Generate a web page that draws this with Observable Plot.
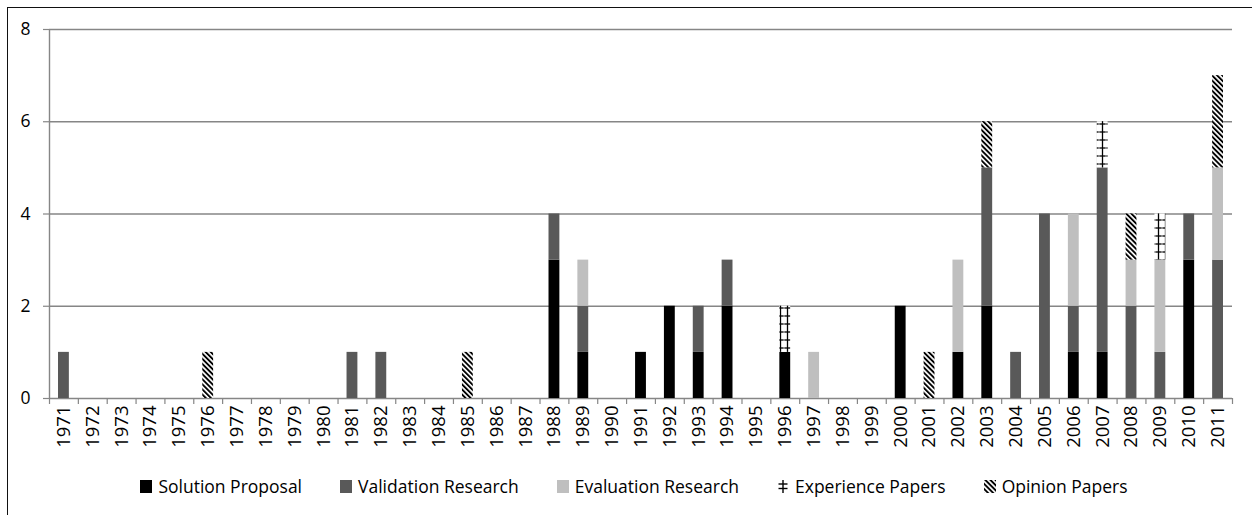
<!DOCTYPE html>
<html>
<head>
<meta charset="utf-8">
<script src="https://cdn.jsdelivr.net/npm/d3@7"></script>
<script src="https://cdn.jsdelivr.net/npm/@observablehq/plot@0.6"></script>
<style>
  html, body { margin: 0; padding: 0; background: #fff; width: 1252px; height: 515px; overflow: hidden; }
  #wrap { position: relative; width: 1252px; height: 515px; }
  #chart { position: absolute; left: 0; top: 0; }
  #border { position: absolute; left: 7px; top: 7px; width: 1300px; height: 600px; border-left: 1.5px solid #111; border-top: 1.5px solid #111; pointer-events: none; }
  #legend { position: absolute; left: 0; top: 474px; width: 1268px; display: flex; justify-content: center; font-family: "Open Sans", sans-serif; font-size: 17.5px; color: #000; }
  .item { display: flex; align-items: center; margin: 0 19px; }
  .item svg { margin-right: 6px; }
</style>
</head>
<body>
<div id="wrap">
  <div id="chart"></div>
  <div id="legend"></div>
  <div id="border"></div>
</div>
<script>
const years = ["1971","1972","1973","1974","1975","1976","1977","1978","1979","1980",
  "1981","1982","1983","1984","1985","1986","1987","1988","1989","1990",
  "1991","1992","1993","1994","1995","1996","1997","1998","1999","2000",
  "2001","2002","2003","2004","2005","2006","2007","2008","2009","2010","2011"];
const types = ["Solution Proposal","Validation Research","Evaluation Research","Experience Papers","Opinion Papers"];
const solution   = [0,0,0,0,0, 0,0,0,0,0, 0,0,0,0,0, 0,0,3,1,0, 1,2,1,2,0, 1,0,0,0,2, 0,1,2,0,0, 1,1,0,0,3, 0];
const validation = [1,0,0,0,0, 0,0,0,0,0, 1,1,0,0,0, 0,0,1,1,0, 0,0,1,1,0, 0,0,0,0,0, 0,0,3,1,4, 1,4,2,1,1, 3];
const evaluation = [0,0,0,0,0, 0,0,0,0,0, 0,0,0,0,0, 0,0,0,1,0, 0,0,0,0,0, 0,1,0,0,0, 0,2,0,0,0, 2,0,1,2,0, 2];
const experience = [0,0,0,0,0, 0,0,0,0,0, 0,0,0,0,0, 0,0,0,0,0, 0,0,0,0,0, 1,0,0,0,0, 0,0,0,0,0, 0,1,0,1,0, 0];
const opinion    = [0,0,0,0,0, 1,0,0,0,0, 0,0,0,0,1, 0,0,0,0,0, 0,0,0,0,0, 0,0,0,0,0, 1,0,1,0,0, 0,0,1,0,0, 2];
const yTicks = [0, 2, 4, 6, 8];

const series = [solution, validation, evaluation, experience, opinion];
const fills = ["#000000", "#595959", "#bfbfbf", "url(#patExp)", "url(#patOp)"];

const data = [];
years.forEach((yr, i) => {
  series.forEach((s, k) => {
    if (s[i] > 0) data.push({year: yr, type: types[k], count: s[i]});
  });
});

const W = 1252, H = 470, mL = 49, mR = 20, mT = 29, mB = 72;
const step = (W - mL - mR) / years.length;
const grid = "#868686";

const plot = Plot.plot({
  width: W, height: H,
  marginLeft: mL, marginRight: mR, marginTop: mT, marginBottom: mB,
  style: "font-family: 'Open Sans', sans-serif; font-size: 17px; background: transparent; color: #000;",
  x: {type: "band", domain: years, padding: 0, label: null},
  y: {domain: [0, 8], label: null},
  color: {domain: types, range: fills},
  marks: [
    Plot.ruleY(yTicks, {stroke: grid, strokeWidth: 1.4}),
    Plot.barY(data, {x: "year", y: "count", fill: "type", insetLeft: 9, insetRight: 9, order: null}),
    Plot.ruleX([years[0]], {x: d => d, dx: -step / 2, y1: 0, y2: 8, stroke: grid, strokeWidth: 1.4}),
    Plot.axisX({tickSize: 6, tickFormat: () => "", dx: -step / 2, stroke: grid, strokeWidth: 1.2, label: null}),
    Plot.axisX([years[years.length - 1]], {tickSize: 6, tickFormat: () => "", dx: step / 2, stroke: grid, strokeWidth: 1.2, label: null}),
    Plot.axisX({tickSize: 0, tickRotate: -90, tickPadding: 7, fontSize: 18.5, fill: "#000", label: null}),
    Plot.axisY({ticks: yTicks, tickSize: 6, tickPadding: 13, stroke: grid, strokeWidth: 1.2, fontSize: 17.5, fill: "#000", label: null})
  ]
});

// patterns
const ns = "http://www.w3.org/2000/svg";
const defs = document.createElementNS(ns, "defs");
defs.innerHTML = `
  <pattern id="patOp" patternUnits="userSpaceOnUse" width="3.6" height="3.6" patternTransform="rotate(-45)">
    <rect width="3.6" height="3.6" fill="#fff"/>
    <rect width="1.9" height="3.6" fill="#000"/>
  </pattern>
  <pattern id="patExp" patternUnits="userSpaceOnUse" width="7" height="8">
    <rect width="7" height="8" fill="#fff"/>
    <line x1="3.5" y1="0" x2="3.5" y2="8" stroke="#000" stroke-width="1.3"/>
    <line x1="0.3" y1="4" x2="6.7" y2="4" stroke="#000" stroke-width="1.3"/>
  </pattern>`;
plot.insertBefore(defs, plot.firstChild);
document.getElementById("chart").appendChild(plot);

// legend
const legend = document.getElementById("legend");
types.forEach((t, k) => {
  const item = document.createElement("div");
  item.className = "item";
  let sw;
  if (k === 3) {
    sw = `<svg width="12" height="13"><line x1="6" y1="0" x2="6" y2="13" stroke="#000" stroke-width="1.4"/><line x1="1.5" y1="4" x2="10.5" y2="4" stroke="#000" stroke-width="1.4"/><line x1="1.5" y1="8.5" x2="10.5" y2="8.5" stroke="#000" stroke-width="1.4"/></svg>`;
  } else {
    sw = `<svg width="12" height="13"><rect width="12" height="13" fill="${fills[k]}"/></svg>`;
  }
  item.innerHTML = sw + `<span>${t}</span>`;
  legend.appendChild(item);
});
</script>
</body>
</html>
